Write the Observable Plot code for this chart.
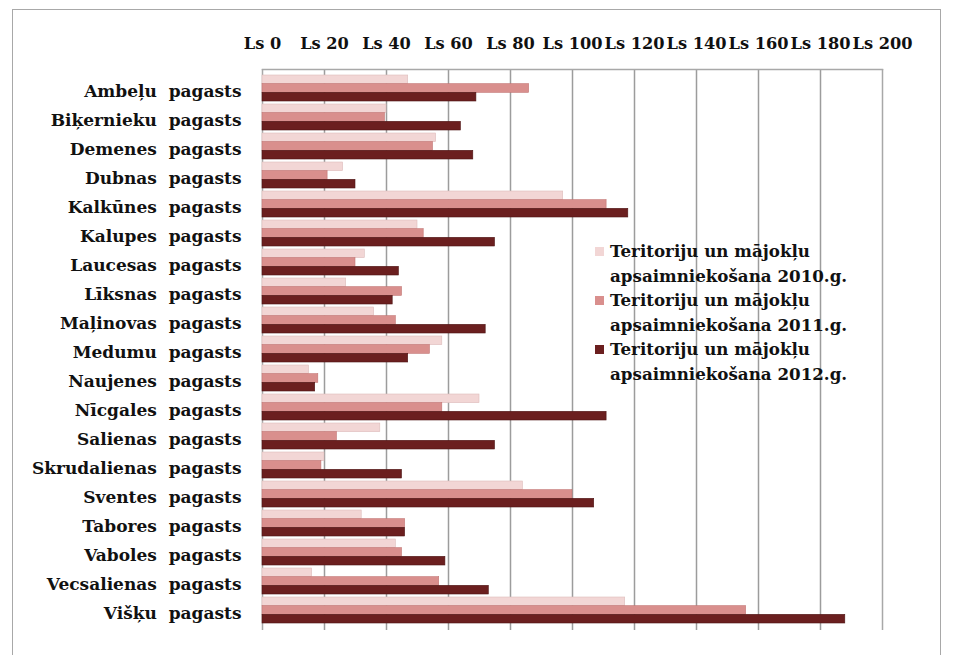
<!DOCTYPE html>
<html>
<head>
<meta charset="utf-8">
<script src="https://cdn.jsdelivr.net/npm/d3@7"></script>
<script src="https://cdn.jsdelivr.net/npm/@observablehq/plot@0.6"></script>
<style>
  html, body { margin: 0; padding: 0; background: #fff; width: 960px; height: 655px; overflow: hidden; }
  #wrap { position: relative; width: 960px; height: 655px; }
  #border { position: absolute; left: 12px; top: 9px; width: 927px; height: 700px;
            border: 1.5px solid #a8a8a8; pointer-events: none; }
  svg text { white-space: pre; }
  #legend { position: absolute; left: 595px; top: 239px; font-family: "DejaVu Serif", serif;
            font-weight: bold; font-size: 16.7px; line-height: 24.5px; color: #111; }
  .item { display: flex; align-items: flex-start; }
  .sw { width: 9px; height: 9px; margin-top: 8px; margin-right: 6px; flex: none; }
</style>
</head>
<body>
<div id="wrap">
  <div id="chart"></div>
  <div id="border"></div>
  <div id="legend"></div>
</div>
<script>
const categories = [
  "Ambeļu  pagasts", "Biķernieku  pagasts", "Demenes  pagasts", "Dubnas  pagasts",
  "Kalkūnes  pagasts", "Kalupes  pagasts", "Laucesas  pagasts", "Līksnas  pagasts",
  "Maļinovas  pagasts", "Medumu  pagasts", "Naujenes  pagasts", "Nīcgales  pagasts",
  "Salienas  pagasts", "Skrudalienas  pagasts", "Sventes  pagasts", "Tabores  pagasts",
  "Vaboles  pagasts", "Vecsalienas  pagasts", "Višķu  pagasts"
];
const v2010 = [47, 40, 56, 26, 97, 50, 33, 27, 36, 58, 15, 70, 38, 20, 84, 32, 43, 16, 117];
const v2011 = [86, 39.5, 55, 21, 111, 52, 30, 45, 43, 54, 18, 58, 24, 19, 100, 46, 45, 57, 156];
const v2012 = [69, 64, 68, 30, 118, 75, 44, 42, 72, 47, 17, 111, 75, 45, 107, 46, 59, 73, 188];
const seriesNames = [
  "Teritoriju un mājokļu apsaimniekošana 2010.g.",
  "Teritoriju un mājokļu apsaimniekošana 2011.g.",
  "Teritoriju un mājokļu apsaimniekošana 2012.g."
];
const seriesColors = ["#f2d6d5", "#d98f8d", "#6b1f1f"];
const seriesStrokes = ["#dcbcbb", "#c27573", "#4e1414"];
const xTicks = [0, 20, 40, 60, 80, 100, 120, 140, 160, 180, 200];

const seriesValues = [v2010, v2011, v2012];
const rows = seriesValues.map(vals => categories.map((c, i) => ({cat: c, value: vals[i]})));

const font = '"DejaVu Serif", serif';
const base = {
  width: 960, height: 655,
  marginLeft: 262, marginRight: 78, marginTop: 69, marginBottom: 25,
  style: {fontFamily: font, fontWeight: "bold", fontSize: "15.5px", color: "#111", background: "transparent"},
  x: {domain: [0, 200], ticks: xTicks, axis: null},
  y: {domain: categories, paddingInner: 0.1, paddingOuter: 0.1, axis: null}
};

function build(bw) {
  const third = bw / 3;
  const bars = rows.map((data, i) => Plot.barX(data, {
    x: "value", y: "cat", fill: seriesColors[i], stroke: seriesStrokes[i], strokeWidth: 0.6,
    insetTop: i * third, insetBottom: (2 - i) * third
  }));
  return Plot.plot({
    ...base,
    marks: [
      Plot.ruleX(xTicks.filter(d => d > 0 && d < 200), {stroke: "#9c9c9c", strokeWidth: 1.5}),
      Plot.ruleX([0, 200], {stroke: "#a8a8a8", strokeWidth: 1.5}),
      Plot.frame({anchor: "top", stroke: "#a8a8a8", strokeWidth: 1.5}),
      ...bars,
      Plot.axisX({anchor: "top", ticks: xTicks, tickSize: 0, tickPadding: 21, label: null,
                  tickFormat: d => "Ls " + d, fontSize: 16.2, fontWeight: "bold"}),
      Plot.axisY({anchor: "left", tickSize: 0, tickPadding: 21, label: null,
                  tickFormat: d => d.replace("  ", "\u00a0\u00a0"),
                  fontSize: 17, fontWeight: "bold", dy: 3})
    ]
  });
}

const probe = Plot.plot({...base, marks: [Plot.barX(rows[0], {x: "value", y: "cat"})]});
const bw = probe.scale("y").bandwidth;
document.getElementById("chart").appendChild(build(bw));

const legend = document.getElementById("legend");
seriesNames.forEach((name, i) => {
  const item = document.createElement("div");
  item.className = "item";
  const sw = document.createElement("div");
  sw.className = "sw";
  sw.style.background = seriesColors[i];
  const txt = document.createElement("div");
  const parts = name.split(" apsaimniekošana ");
  txt.innerHTML = parts[0] + "<br>apsaimniekošana " + parts[1];
  item.appendChild(sw);
  item.appendChild(txt);
  legend.appendChild(item);
});
</script>
</body>
</html>
